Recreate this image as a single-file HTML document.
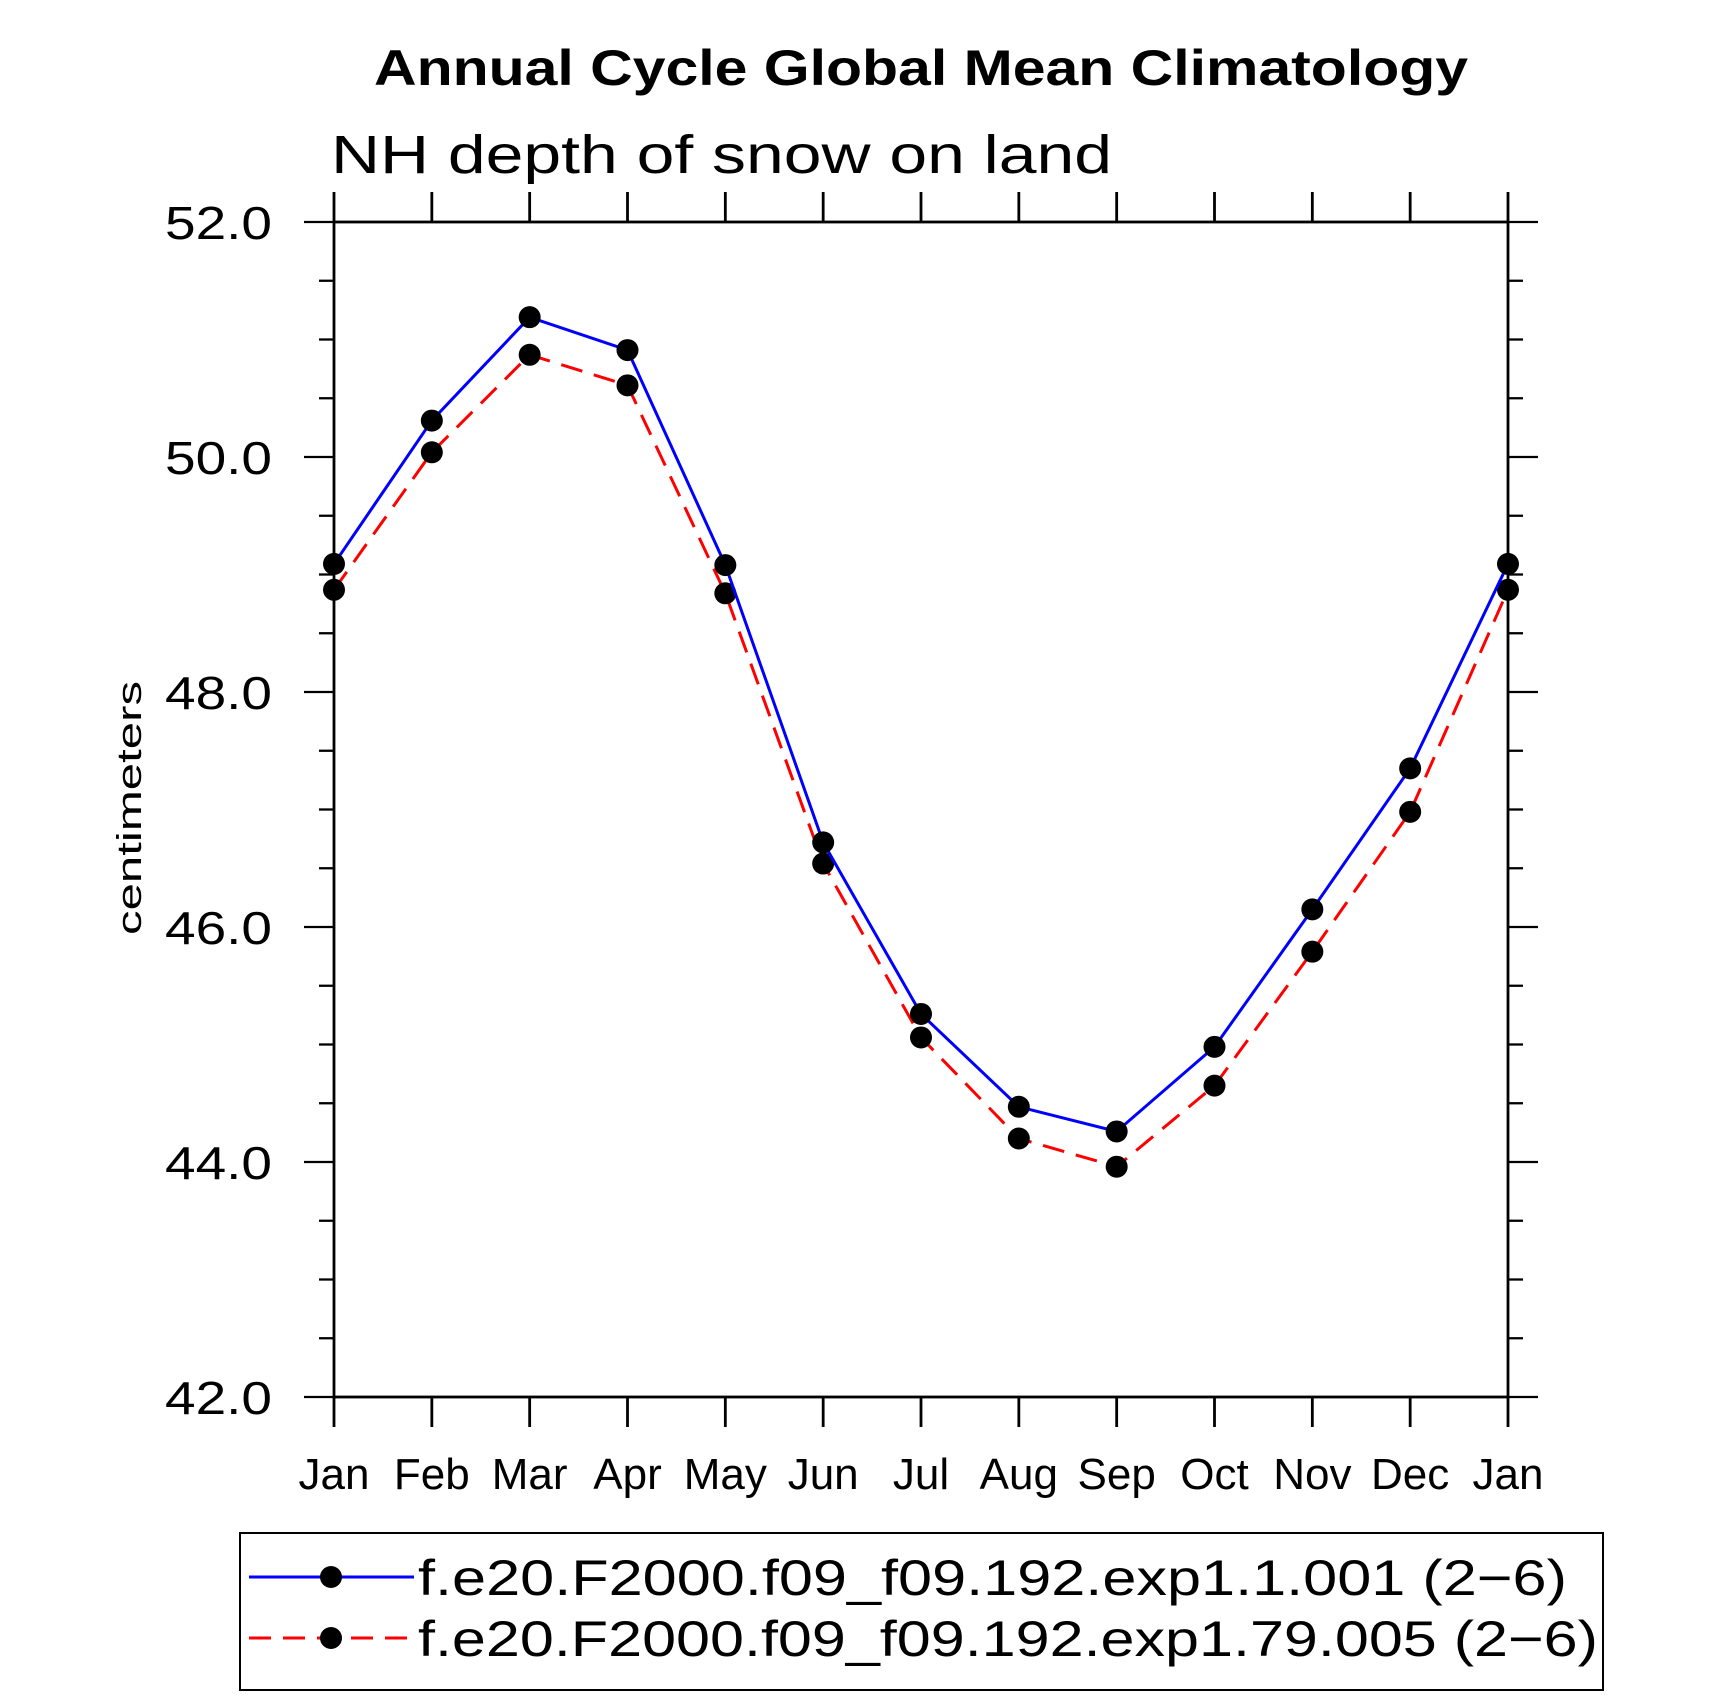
<!DOCTYPE html>
<html><head><meta charset="utf-8"><style>html,body{margin:0;padding:0;background:#fff}svg{display:block}</style></head>
<body>
<svg id="chart" width="1710" height="1697" xmlns="http://www.w3.org/2000/svg" font-family="Liberation Sans, sans-serif">
<text x="921" y="85" text-anchor="middle" font-weight="bold" font-size="50" textLength="1094" lengthAdjust="spacingAndGlyphs">Annual Cycle Global Mean Climatology</text>
<text x="331" y="173" font-size="54" textLength="781" lengthAdjust="spacingAndGlyphs">NH depth of snow on land</text>
<text transform="translate(141,808) rotate(-90)" text-anchor="middle" font-size="34" textLength="254" lengthAdjust="spacingAndGlyphs">centimeters</text>
<g id="axes"></g>
<g id="series"></g>
<rect x="240" y="1533" width="1363" height="157" fill="none" stroke="#000" stroke-width="2"/>
<g>
<line x1="249" y1="1577" x2="414" y2="1577" stroke="#0000ff" stroke-width="3"/>
<circle cx="331" cy="1577" r="11"/>
<text x="418" y="1595" font-size="50" textLength="1149" lengthAdjust="spacingAndGlyphs">f.e20.F2000.f09_f09.192.exp1.1.001 (2−6)</text>
</g>
<g>
<line x1="249" y1="1638" x2="414" y2="1638" stroke="#ff0000" stroke-width="3" stroke-dasharray="22,12"/>
<circle cx="331" cy="1638" r="11"/>
<text x="418" y="1656" font-size="50" textLength="1180" lengthAdjust="spacingAndGlyphs">f.e20.F2000.f09_f09.192.exp1.79.005 (2−6)</text>
</g>
</svg>
<script>
const months = ["Jan","Feb","Mar","Apr","May","Jun","Jul","Aug","Sep","Oct","Nov","Dec","Jan"];
const yTicks = [42,44,46,48,50,52];
const yTickLabels = ["42.0","44.0","46.0","48.0","50.0","52.0"];
const seriesA = [49.09,50.31,51.19,50.91,49.08,46.72,45.26,44.47,44.26,44.98,46.15,47.35,49.09];
const seriesB = [48.87,50.04,50.87,50.61,48.84,46.54,45.06,44.20,43.96,44.65,45.79,46.98,48.87];
const X0=334,X1=1508,Y0=1397,Y1=222,YMIN=42,YMAX=52;
const xs=i=>X0+(X1-X0)*i/(months.length-1);
const ys=v=>Y0-(v-YMIN)/(YMAX-YMIN)*(Y0-Y1);
const NS="http://www.w3.org/2000/svg";
function mk(tag,attrs,parent){const e=document.createElementNS(NS,tag);for(const k in attrs)e.setAttribute(k,attrs[k]);parent.appendChild(e);return e;}
const ax=document.getElementById('axes');
const frame=mk('rect',{x:X0,y:Y1,width:X1-X0,height:Y0-Y1,fill:'none',stroke:'#000','stroke-width':2.8},ax);


months.forEach((m,i)=>{
  const x=xs(i);
  const t1=mk('line',{x1:x,y1:Y0,x2:x,y2:Y0+30,stroke:'#000','stroke-width':2.8},ax);
  
  
  const t2=mk('line',{x1:x,y1:Y1,x2:x,y2:Y1-30,stroke:'#000','stroke-width':2.8},ax);
  
  
  const tx=mk('text',{x:x,y:1489,'text-anchor':'middle','font-size':44},ax);
  tx.textContent=m;
  
  
});
for(let v=YMIN;v<=YMAX+1e-9;v+=0.5){
  const y=ys(v);const major=Math.abs(v%2)<1e-9;const L=major?30:15;
  const a=mk('line',{x1:X0,y1:y,x2:X0-L,y2:y,stroke:'#000','stroke-width':2.3},ax);
  
  
  const b=mk('line',{x1:X1,y1:y,x2:X1+L,y2:y,stroke:'#000','stroke-width':2.3},ax);
  
  
}
yTicks.forEach((v,i)=>{
  const t=mk('text',{x:272,y:ys(v)+17,'text-anchor':'end','font-size':46,textLength:107,lengthAdjust:'spacingAndGlyphs'},ax);
  t.textContent=yTickLabels[i];
  
  
});
const sg=document.getElementById('series');
function drawSeries(vals,color,dash,name){
  const pts=vals.map((v,i)=>xs(i)+','+ys(v)).join(' ');
  const pl=mk('polyline',{points:pts,fill:'none',stroke:color,'stroke-width':3,'stroke-dasharray':dash},sg);
  
  
  vals.forEach((v,i)=>{
    const c=mk('circle',{cx:xs(i),cy:ys(v),r:11,fill:'#000'},sg);
    
    
  });
}
drawSeries(seriesB,'#ff0000','22,12','series-exp1-79-005');
drawSeries(seriesA,'#0000ff','none','series-exp1-1-001');
</script>
</body></html>
